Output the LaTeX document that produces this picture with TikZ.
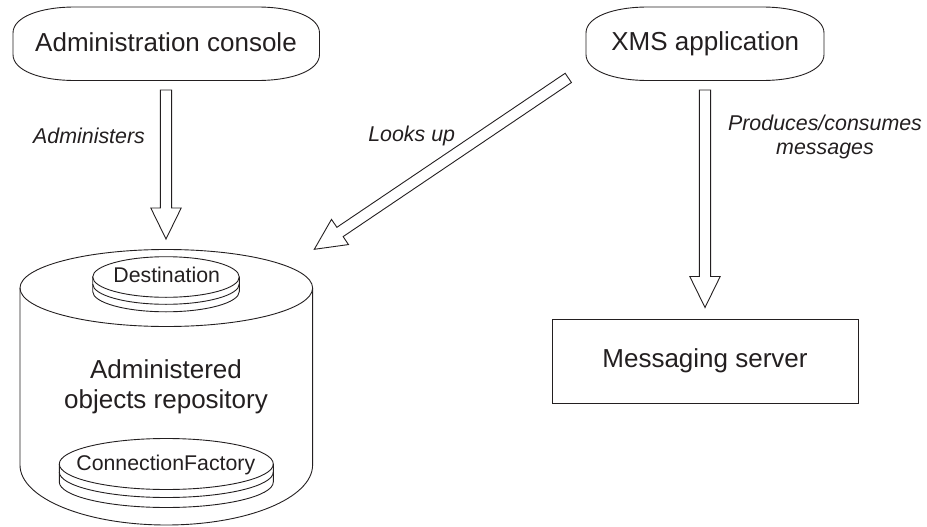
\documentclass[tikz,border=0pt]{standalone}
\usepackage{fontspec}
\setmainfont{Liberation Sans}
\usetikzlibrary{calc}
\definecolor{ink}{HTML}{231F20}
\tikzset{
  outline/.style={draw=ink,line width=0.9pt,line join=miter},
  big/.style={anchor=base,inner sep=0pt,text=ink,font=\fontsize{26}{30}\selectfont},
  small/.style={anchor=base,inner sep=0pt,text=ink,font=\fontsize{21.3}{25}\selectfont},
  note/.style={anchor=base,inner sep=0pt,text=ink,font=\fontsize{21.4}{25}\selectfont\itshape},
}
% block arrow: start coordinate, tip coordinate
\newcommand{\blockarrow}[2]{%
  \draw[outline]
    ($(#1)!5.6pt!90:(#2)$) --
    ($($(#2)!31pt!(#1)$)!5.6pt!-90:(#1)$) --
    ($($(#2)!31pt!(#1)$)!15.2pt!-90:(#1)$) --
    (#2) --
    ($($(#2)!31pt!(#1)$)!15.2pt!90:(#1)$) --
    ($($(#2)!31pt!(#1)$)!5.6pt!90:(#1)$) --
    ($(#1)!5.6pt!-90:(#2)$) -- cycle;}
% pill outline: left, right, top, bottom
\newcommand{\pill}[4]{%
  \draw[outline] (#1,#3+26) .. controls (#1,#3+10) and (#1+27,#3) .. (#1+62,#3)
    -- (#2-62,#3) .. controls (#2-27,#3) and (#2,#3+10) .. (#2,#3+26)
    -- (#2,#4-26) .. controls (#2,#4-10) and (#2-27,#4) .. (#2-62,#4)
    -- (#1+62,#4) .. controls (#1+27,#4) and (#1,#4-10) .. (#1,#4-26) -- cycle;}
% disc stack: centre x, centre y, rx, ry, gap2, gap3
\newcommand{\discstack}[6]{%
  \draw[outline] (#1,#2) ellipse [x radius=#3pt,y radius=#4pt];
  \draw[outline] (#1-#3,#2) -- (#1-#3,#2+#6)
     arc[start angle=180,end angle=360,x radius=#3pt,y radius=#4pt] -- (#1+#3,#2);
  \draw[outline] (#1-#3,#2+#5) arc[start angle=180,end angle=360,x radius=#3pt,y radius=#4pt];}
\begin{document}
\begin{tikzpicture}[x=1pt,y=-1pt]
\useasboundingbox (0,0) rectangle (927,527);
% pills and box
\pill{13}{319.5}{7}{80.5}
\pill{586}{824}{7}{80.5}
\draw[outline] (552,319) rectangle (858.5,403.5);
% cylinder
\draw[outline] (166.3,288) ellipse [x radius=146.3pt,y radius=38.5pt];
\draw[outline] (20,288) -- (20,465) arc[start angle=180,end angle=360,x radius=146.3pt,y radius=60pt] -- (312.6,288);
\discstack{166}{277}{73.3}{20.3}{7}{14.5}
\discstack{166.3}{464}{107}{25.5}{8}{18}
% texts
\node[big] (console) at (166,51.7) {Administration console};
\node[big] (xms) at (705.3,51) {XMS application};
\node[big] (server) at (705,367.3) {Messaging server};
\node[big] (repo1) at (166,378.3) {Administered};
\node[big] (repo2) at (166,408.3) {objects repository};
\node[small] (dest) at (166.7,282.7) {Destination};
\node[small] (factory) at (165.8,470.7) {ConnectionFactory};
\node[note] (administers) at (89,143.3) {Administers};
\node[note] (looks) at (411.7,141.7) {Looks up};
\node[note] (produces) at (825,130) {Produces/consumes};
\node[note] (messages) at (825,154) {messages};
% arrow ends
\coordinate (a1s) at (166,90);
\coordinate (a1t) at (166,239);
\coordinate (a2s) at (568.3,77.9);
\coordinate (a2t) at (314.3,249.3);
\coordinate (a3s) at (705,90);
\coordinate (a3t) at (705,307.5);
\blockarrow{a1s}{a1t}
\blockarrow{a2s}{a2t}
\blockarrow{a3s}{a3t}
\end{tikzpicture}
\end{document}
